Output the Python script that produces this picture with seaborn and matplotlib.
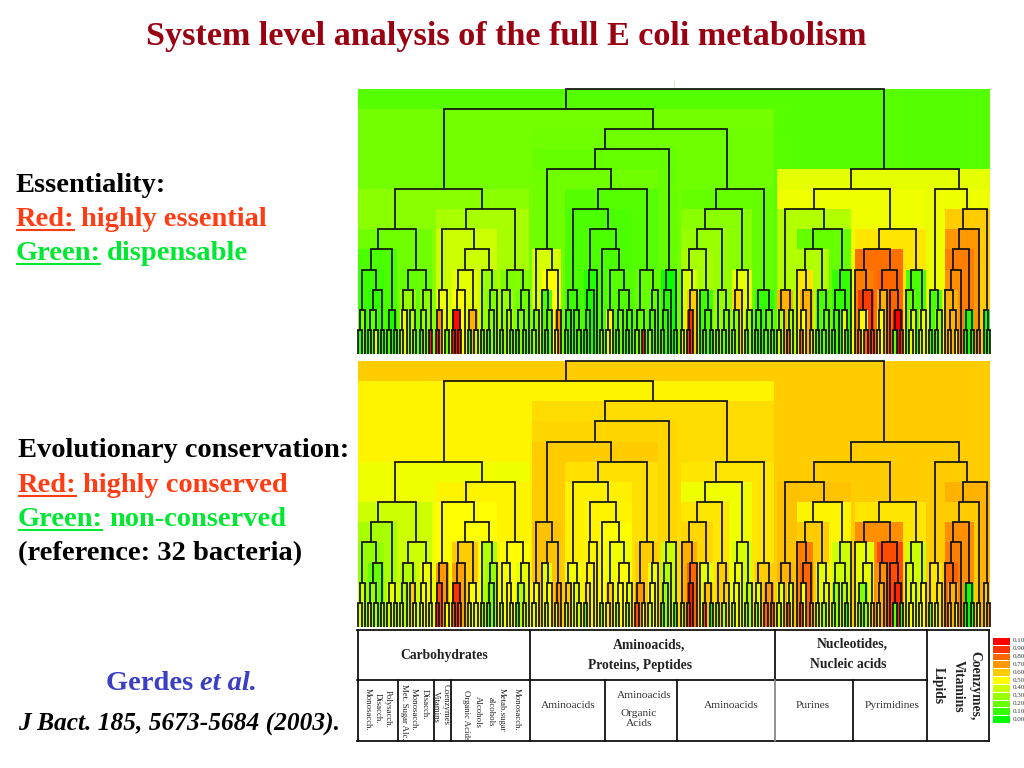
# -*- coding: utf-8 -*-
import re
import numpy as np
import seaborn as sns
import matplotlib
matplotlib.use('Agg')
import matplotlib.pyplot as plt
from matplotlib.colors import LinearSegmentedColormap

# TREE OF E COLI SUBSYSTEMS: level(left,right), 13 = pair of genes at last level, x = one gene
tree = (
    "1(2(6(8(9("
    "10(12(13,x),11(12(13,13),13)),"
    "12(13,13)),"
    "10(11(12(13,x),12(x,13)),11(12(13,x),13))),"
    "7(8(11(12(13,x),13),"
    "9(10(11(12(13,13),x),12(13,13)),"
    "10(13,11(12(13,x),x)))),"
    "10(11(13,12(x,13)),11(12(13,13),x)))),"
    "3(4(5("
    "9(12(13,x),10(11(x,12(13,x)),12(13,x))),"
    "6(7(11(12(13,x),12(x,13)),"
    "8(10(11(12(13,x),x),x),"
    "9(13,10(12(13,x),11(12(13,x),12(13,x)))))),"
    "10(12(13,13),11(12(13,x),x)))),"
    "10(11(12(13,x),x),13)),"
    "6(7(8(9(10(13,11(12(13,x),x)),"
    "11(x,12(13,13))),"
    "11(13,12(13,x))),"
    "10(11(12(13,x),x),12(13,x))),"
    "11(12(13,x),12(13,13))))),"
    "5(6(7(11(12(13,x),12(13,x)),"
    "8(9(10(x,11(12(13,x),13)),"
    "11(13,12(13,x))),"
    "10(11(12(13,x),12(x,13)),x))),"
    "8(9(10(x,11(12(13,13),13)),"
    "10(11(12(13,x),x),11(x,12(13,13)))),"
    "10(11(x,12(13,x)),12(13,x)))),"
    "6(11(13,12(13,x)),"
    "7(8(9(10(11(x,12(13,13)),x),12(13,13)),13),12(x,13)))))"
)

# NODE VALUES, SAME ORDER AS THE TREE STRING
essentiality = [
    .17, .23, .27, .22, .15,
    .12, .25, .1, .1, .2, .15, .45, .15,
    .05, .15, .1,
    .2, .3, .45, .4, .35, .25, .28, .3, .2, .95,
    .33, .4, .47, .72, .95, .2,
    .4, .45, .5, .97, .95, .95, .65, .15, .4,
    .3, .25, .25, .28, .15,
    .25, .3, .2, .35, .2, .22, .25, .15, .2,
    .22, .2, .22,
    .42, .25, .3, .5, .15, .2, .15, .72, .5,
    .17, .15, .12, .1, .15, .15, .15,
    .15, .07, .05, .1, .1,
    .15, .35, .17, .5, .45, .16, .2, .2, .15, .15,
    .2, .2, .25, .95, .2, .15, .3,
    .02, .08, .1, .2, .1,
    .2, .27, .3, .33, .42, .55, .6, .9, .9,
    .12, .15, .2, .05,
    .3, .25, .25, .2,
    .45, .58, .3, .25, .3, .2,
    .1, .15, .15, .2, .2, .2,
    .45, .47, .35, .65, .35, .4, .35, .8,
    .2, .35, .55, .65, .5, .8, .55,
    .15, .2, .2, .2,
    .1, .1, .15, .15, .45, .15,
    .55, .78, .75, .88, .5, .75, .8, .85,
    .8, .65, .5, .55, .8, 1.0, .2, .9,
    .15, .2, .42, .45, .45, .4,
    .47, .15, .15, .3, .2,
    .6, .7, .75, .72, .65, .65, .6, .5, .05, .1, .1, .7, .05, .1,
]
conservation = [
    .6, .52, .47, .4, .33,
    .3, .4, .45, .2, .3, .45, .35, .4,
    .45, .4, .3,
    .4, .35, .35, .4, .6, .45, .47, .5, .45, .4,
    .52, .5, .7, .85, .95, .5,
    .5, .6, .68, .9, .8, .8, .5, .4, .45,
    .35, .3, .3, .25, .15,
    .5, .48, .35, .5, .45, .45, .35, .15, .4,
    .57, .58, .6,
    .62, .5, .45, .62, .45, .5, .4, .7, .45,
    .56, .53, .48, .6, .4, .45, .4,
    .52, .52, .52, .55, .2,
    .5, .3, .47, .6, .55, .5, .5, .35, .45, .35,
    .6, .7, .85, .5, .47, .5, .4,
    .4, .35, .3, .2, .1,
    .55, .47, .55, .58, .66, .35, .8, .93, .85,
    .45, .62, .85, .05,
    .6, .3, .58, .35,
    .42, .47, .48, .35, .35, .3,
    .6, .45, .3, .7, .8, .8,
    .6, .6, .62, .65, .45, .4, .45, .85,
    .52, .6, .75, .8, .5, .85, .7,
    .45, .4, .45, .3,
    .4, .4, .3, .3, .35, .1,
    .55, .72, .45, .45, .25, .3, .3, .6,
    .85, .72, .65, .55, .85, .92, .2, .1,
    .4, .42, .45, .5, .5, .5,
    .6, .55, .2, .55, .45,
    .65, .6, .72, .75, .8, .65, .6, .45, .02, .05, .1, .5, .6, .7,
]
legend_values = [1.0, .9, .8, .7, .6, .5, .4, .3, .2, .1, 0.0]
legend_labels = ['0.10', '0.90', '0.80', '0.70', '0.60', '0.50', '0.40', '0.30', '0.20', '0.10', '0.00']
level_rows = [5] * 12 + [6]

SERIF = 'Liberation Serif'
sns.set_theme(style='white')
plt.rcParams['font.family'] = [SERIF, 'DejaVu Serif']
cmap = LinearSegmentedColormap.from_list('gyr', ['#00ff00', '#ffff00', '#ff0000'])


# READ THE TREE STRING INTO NODES
tokens = re.findall(r'\d+|x|[(),]', tree)
nodes = []
pos = 0
leaf = 0


def read_node():
    global pos, leaf
    tok = tokens[pos]
    pos += 1
    if tok == 'x':
        leaf += 1
        return dict(first=leaf - 1, last=leaf - 1, level=None)
    node = dict(level=int(tok))
    nodes.append(node)
    if pos < len(tokens) and tokens[pos] == '(':
        pos += 1
        node['left'] = read_node()
        pos += 1
        node['right'] = read_node()
        pos += 1
    else:
        node['left'] = dict(first=leaf, last=leaf, level=None)
        node['right'] = dict(first=leaf + 1, last=leaf + 1, level=None)
        leaf += 2
    node['first'] = node['left']['first']
    node['last'] = node['right']['last']
    return node


read_node()
n_cols = leaf - 1
n_rows = sum(level_rows)
row_of_level = np.concatenate([[0], np.cumsum(level_rows)])


def level_y(level):
    return n_rows if level is None else row_of_level[level - 1]


def mid(node):
    return (node['first'] + node['last']) / 2


def heat_matrix(values):
    # every node paints its span from its level down, children paint over it
    mat = np.zeros((n_rows, n_cols))
    for node, val in zip(nodes, values):
        mat[level_y(node['level']):, node['first']:node['last']] = val
    return mat


def draw_tree(ax):
    for node in nodes:
        y = level_y(node['level'])
        ax.plot([mid(node['left']), mid(node['right'])], [y, y], color='#111111', lw=1.25,
                clip_on=False, solid_capstyle='projecting')
        for child in (node['left'], node['right']):
            ax.plot([mid(child), mid(child)], [y, level_y(child['level'])], color='#111111', lw=1.25,
                    clip_on=False, solid_capstyle='butt')


fig = plt.figure(figsize=(10.24, 7.68), dpi=100)


def px_axes(x0, y0, x1, y1):
    return fig.add_axes([x0 / 1024, 1 - y1 / 768, (x1 - x0) / 1024, (y1 - y0) / 768])


# PAGE LAYER IN PIXELS FOR TEXT AND THE CLASS TABLE
page = px_axes(0, 0, 1024, 768)
page.set_xlim(0, 1024)
page.set_ylim(768, 0)
page.axis('off')

# TWO HEATMAPS WITH THE TREE ON TOP
for (top, bottom), values in (((88.7, 354), essentiality), ((361, 627), conservation)):
    ax = px_axes(358.3, top, 990, bottom)
    sns.heatmap(heat_matrix(values), cmap=cmap, vmin=0, vmax=1, cbar=False, ax=ax,
                xticklabels=False, yticklabels=False)
    draw_tree(ax)
    page.plot([674, 674], [top - 8, top], color='#d5ecc8', lw=0.8)

# COLOUR KEY
key = px_axes(992, 637, 1010, 723)
sns.heatmap(np.array(legend_values).reshape(-1, 1), cmap=cmap, vmin=0, vmax=1, cbar=False, ax=key,
            linewidths=0.5, linecolor='white', xticklabels=False, yticklabels=False)
for i, lab in enumerate(legend_labels):
    page.text(1012.5, 637 + (i + 0.5) * 86 / 11, lab, fontsize=5, va='center', ha='left', color='#333333')

# TITLE AND LEFT TEXT
page.text(506.5, 36, 'System level analysis of the full E coli metabolism', fontsize=24.55, fontweight='bold',
          color='#990011', ha='center', va='center')

RED = '#ff3c14'
GREEN = '#00e832'
BIG = 20.5


def colour_line(x, y, head, tail, colour):
    t = page.text(x, y, head, fontsize=BIG, fontweight='bold', color=colour, va='baseline')
    fig.canvas.draw()
    box = t.get_window_extent()
    page.plot([x, x + box.width], [y + 4, y + 4], color=colour, lw=1.5, solid_capstyle='butt')
    page.text(x + box.width + 6, y, tail, fontsize=BIG, fontweight='bold', color=colour, va='baseline')


page.text(16, 192, 'Essentiality:', fontsize=BIG, fontweight='bold', color='black', va='baseline')
colour_line(16, 226, 'Red:', 'highly essential', RED)
colour_line(16, 260, 'Green:', 'dispensable', GREEN)

page.text(18, 457, 'Evolutionary conservation:', fontsize=BIG, fontweight='bold', color='black', va='baseline')
colour_line(18, 492, 'Red:', 'highly conserved', RED)
colour_line(18, 526, 'Green:', 'non-conserved', GREEN)
page.text(18, 560, '(reference: 32 bacteria)', fontsize=BIG, fontweight='bold', color='black', va='baseline')

t = page.text(106, 690, 'Gerdes ', fontsize=BIG, fontweight='bold', color='#3a3fc4', va='baseline')
fig.canvas.draw()
page.text(106 + t.get_window_extent().width, 690, 'et al.', fontsize=BIG, fontweight='bold', style='italic',
          color='#3a3fc4', va='baseline')
page.text(18, 731, 'J Bact. 185, 5673-5684 (2003).', fontsize=18.3, fontweight='bold', style='italic',
          color='black', va='baseline')

# CLASS TABLE BELOW THE HEATMAPS
table_lines = [
    ([357, 989], [630, 630]), ([357, 927], [680, 680]), ([357, 989], [741, 741]),
    ([358, 358], [630, 741]), ([530, 530], [630, 741]), ([775, 775], [630, 680]),
    ([927, 927], [630, 741]), ([989, 989], [630, 741]), ([398, 398], [680, 741]),
    ([434, 434], [680, 741]), ([451, 451], [680, 741]), ([605, 605], [680, 741]),
    ([677, 677], [680, 741]), ([853, 853], [680, 741]),
]
for xs, ys in table_lines:
    page.plot(xs, ys, color='#111111', lw=1.3, solid_capstyle='projecting')
page.plot([775, 775], [680, 741], color='#888888', lw=1.3)

for x, y, s in [(444, 655, 'Carbohydrates'), (649, 645, 'Aminoacids,'), (640, 665, 'Proteins, Peptides'),
                (852, 644, 'Nucleotides,'), (848, 665, 'Nucleic acids')]:
    page.text(x, y, s, fontsize=9.8, fontweight='bold', color='#222222', ha='center', va='center')

for x, y, s in [(568, 705, 'Aminoacids'), (644, 695, 'Aminoacids'), (639, 713, 'Organic'), (639, 724, 'Acids'),
                (731, 705, 'Aminoacids'), (813, 705, 'Purines'), (892, 705, 'Pyrimidines')]:
    page.text(x, y, s, fontsize=8.2, color='#333333', ha='center', va='center')

for x, y, s in [(388, 709, 'Polysacch.'), (378, 708, 'Disacch.'), (368, 709, 'Monosacch.'), (425, 704, 'Disacch.'),
                (414, 709, 'Monosacch.'), (404, 712, 'Met. Sugar Alc.'), (446, 705, 'Coenzymes'), (436, 707, 'Vitamins'),
                (466, 715, 'Organic Acids'), (478, 712, 'Alcohols'), (491, 712, 'alcohols'), (502, 710, 'Metab.sugar'),
                (517, 709, 'Monosacch.')]:
    page.text(x, y, s, fontsize=6.3, color='#222222', rotation=270, ha='center', va='center')

for x, s in [(975, 'Coenzymes,'), (958, 'Vitamins'), (938, 'Lipids')]:
    page.text(x, 686, s, fontsize=9.8, fontweight='bold', color='#222222', rotation=270, ha='center', va='center')

fig.savefig('out.png', dpi=100)
